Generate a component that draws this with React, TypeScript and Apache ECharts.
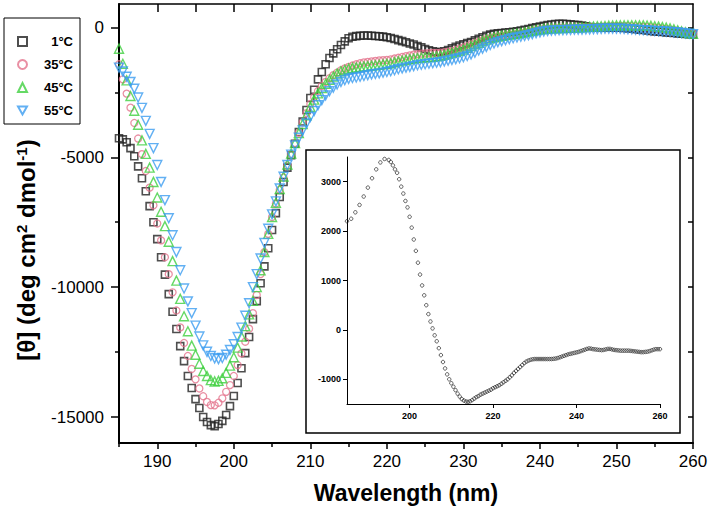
import React, { useEffect, useRef } from "react";
import * as echarts from "echarts";

// ---- data (wavelength grid: 185 nm to 260 nm, every 0.5 nm) ----
const WL_START = 185;
const WL_STEP = 0.5;

const SERIES_NAMES = ["1°C", "35°C", "45°C", "55°C"];

const CD_1C = [
  -4270, -4310, -4420, -4650, -4960, -5350, -5810, -6310, -6880, -7500,
  -8150, -8850, -9520, -10270, -10950, -11610, -12270, -12850, -13420, -13880,
  -14310, -14650, -15000, -15190, -15310, -15350, -15270, -15150, -14920, -14580,
  -14190, -13690, -13120, -12540, -11920, -11230, -10540, -9850, -9200, -8500,
  -7800, -7150, -6530, -5950, -5400, -4920, -4480, -4030, -3630, -3180,
  -2720, -2400, -2000, -1720, -1420, -1180, -1000, -840, -680, -540,
  -420, -360, -335, -320, -315, -315, -320, -330, -340, -355,
  -380, -410, -450, -490, -530, -575, -620, -660, -720, -770,
  -830, -880, -920, -950, -950, -920, -870, -810, -750, -700,
  -650, -600, -560, -500, -440, -380, -320, -280, -250, -230,
  -215, -200, -185, -170, -150, -120, -90, -60, -30, 0,
  30, 60, 90, 110, 130, 140, 140, 130, 115, 100,
  85, 70, 40, 15, 0, -10, -10, -10, -10, -10,
  -10, -15, -25, -40, -55, -70, -85, -100, -120, -140,
  -155, -170, -180, -195, -205, -215, -230, -245, -255, -265,
  -275,
];

const CD_35C = [
  -1420, -2000, -2550, -3090, -3680, -4280, -4880, -5530, -6170, -6850,
  -7550, -8200, -8850, -9500, -10200, -10900, -11550, -12150, -12650, -13150,
  -13550, -13900, -14200, -14420, -14540, -14550, -14450, -14280, -14030, -13770,
  -13420, -13000, -12550, -12100, -11600, -11000, -10300, -9500, -8650, -7950,
  -7300, -6780, -6250, -5780, -5320, -4880, -4450, -4050, -3650, -3300,
  -2950, -2680, -2450, -2250, -2100, -1960, -1840, -1740, -1650, -1580,
  -1520, -1470, -1420, -1380, -1350, -1330, -1310, -1290, -1270, -1260,
  -1250, -1230, -1200, -1170, -1140, -1110, -1080, -1050, -1030, -1010,
  -1000, -990, -985, -980, -975, -960, -940, -910, -870, -820,
  -770, -720, -660, -600, -550, -500, -450, -410, -380, -350,
  -330, -310, -290, -270, -250, -230, -200, -170, -140, -110,
  -80, -60, -45, -35, -30, -25, -20, -15, -10, -5,
  0, 5, 10, 15, 20, 25, 30, 35, 40, 45,
  50, 50, 50, 45, 40, 35, 30, 20, 10, 0,
  -15, -30, -50, -70, -90, -110, -130, -160, -190, -220,
  -250,
];

const CD_45C = [
  -820, -1400, -2040, -2640, -3210, -3750, -4350, -4870, -5400, -5950,
  -6550, -7100, -7650, -8250, -9000, -9750, -10450, -11120, -11700, -12250,
  -12600, -12950, -13230, -13420, -13580, -13630, -13610, -13510, -13300, -13020,
  -12700, -12330, -11900, -11500, -11050, -10530, -10000, -9350, -8650, -7950,
  -7300, -6750, -6220, -5740, -5280, -4860, -4450, -4070, -3720, -3380,
  -3060, -2780, -2540, -2340, -2170, -2020, -1890, -1780, -1690, -1630,
  -1590, -1560, -1540, -1520, -1500, -1490, -1470, -1460, -1440, -1420,
  -1400, -1380, -1340, -1310, -1280, -1250, -1220, -1200, -1180, -1160,
  -1150, -1140, -1130, -1110, -1090, -1060, -1020, -980, -940, -900,
  -850, -790, -720, -650, -590, -530, -470, -420, -380, -350,
  -320, -300, -280, -260, -240, -220, -190, -160, -130, -100,
  -80, -60, -50, -40, -35, -30, -25, -20, -15, -10,
  -5, 0, 10, 20, 30, 40, 45, 55, 65, 70,
  75, 80, 80, 80, 80, 80, 75, 75, 70, 60,
  45, 30, 10, -10, -40, -70, -110, -150, -190, -220,
  -250,
];

const CD_55C = [
  -1550, -1700, -1900, -2100, -2360, -2700, -3100, -3600, -4100, -4650,
  -5300, -5950, -6650, -7350, -8000, -8650, -9350, -10050, -10550, -11000,
  -11480, -11900, -12240, -12490, -12650, -12740, -12770, -12730, -12600, -12420,
  -12200, -11920, -11560, -11100, -10620, -10000, -9500, -8900, -8300, -7750,
  -7200, -6700, -6200, -5750, -5300, -4900, -4550, -4250, -3970, -3700,
  -3450, -3220, -3000, -2800, -2620, -2460, -2320, -2200, -2100, -2030,
  -1980, -1950, -1930, -1900, -1870, -1840, -1810, -1790, -1770, -1740,
  -1720, -1690, -1650, -1610, -1580, -1550, -1520, -1490, -1460, -1440,
  -1420, -1400, -1380, -1360, -1340, -1310, -1280, -1250, -1220, -1190,
  -1150, -1100, -1040, -970, -890, -820, -750, -680, -620, -570,
  -530, -490, -450, -420, -390, -360, -330, -300, -260, -220,
  -190, -160, -140, -125, -115, -110, -105, -100, -95, -90,
  -90, -85, -80, -75, -70, -65, -60, -55, -50, -50,
  -50, -55, -60, -70, -80, -90, -100, -110, -120, -130,
  -140, -150, -160, -170, -180, -190, -200, -215, -230, -245,
  -260,
];

// inset: 185–195 nm every 1 nm, then 195.5–260 nm every 0.5 nm
const INSET_COARSE_START = 185;
const INSET_COARSE_STEP = 1;
const INSET_COARSE = [2200, 2250, 2380, 2530, 2700, 2880, 3070, 3250, 3390, 3460, 3440];
const INSET_FINE_START = 195.5;
const INSET_FINE_STEP = 0.5;
const INSET_FINE = [
  3400, 3330, 3250, 3180, 3050, 2900, 2760, 2610, 2480,
  2290, 2070, 1830, 1600, 1360, 1120, 900, 700, 500, 320,
  170, 30, -110, -230, -370, -510, -650, -780, -900, -1000,
  -1080, -1150, -1220, -1290, -1350, -1400, -1430, -1450, -1455, -1445,
  -1420, -1390, -1360, -1340, -1310, -1290, -1270, -1250, -1230, -1210,
  -1180, -1160, -1140, -1120, -1090, -1060, -1030, -1000, -960, -920,
  -870, -830, -790, -750, -710, -670, -640, -620, -605, -595,
  -590, -590, -590, -590, -590, -590, -590, -590, -590, -585,
  -580, -570, -555, -540, -525, -510, -495, -485, -475, -465,
  -455, -445, -430, -415, -400, -385, -375, -380, -390, -395,
  -400, -405, -410, -405, -395, -385, -385, -395, -405, -410,
  -415, -420, -420, -420, -420, -420, -425, -430, -435, -440,
  -445, -450, -450, -445, -440, -430, -415, -400, -390, -390,
  -390,
];

// ticks / labels
const MAIN_X_LABELS = [190, 200, 210, 220, 230, 240, 250, 260];
const MAIN_X_MINOR = [185, 195, 205, 215, 225, 235, 245, 255];
const MAIN_X_TOP_TICKS = [190, 195, 200, 205, 210, 215, 220, 225, 230, 235, 240, 245, 250, 255];
const MAIN_Y_LABELS = [-15000, -10000, -5000, 0];
const MAIN_Y_MINOR = [-12500, -7500, -2500];
const MAIN_Y_RIGHT_TICKS = [-15000, -12500, -10000, -7500, -5000, -2500, 0];
const INSET_X_LABELS = [200, 220, 240, 260];
const INSET_Y_LABELS = [-1000, 0, 1000, 2000, 3000];

const FONT = 'Arial, "Liberation Sans", Helvetica, sans-serif';

function pair(values: number[], start: number, step: number) {
  return values.map((v, i) => [start + i * step, v]);
}
const plain = (v: number) => String(v);

const COLORS = ["#222222", "#e4738c", "#3fcf3f", "#3b9cf0"];
const SYMBOLS = ["rect", "circle", "triangle", "path://M0,0L10,0L5,9Z"];
const SIZES = [7, 7, 9, 9];
const BORDERS = [1.6, 1.3, 1.4, 1.4];

export default function App() {
  const ref = useRef<HTMLDivElement>(null);
  useEffect(() => {
    if (!ref.current) return;
    const chart = echarts.init(ref.current, null, { renderer: "svg" });
    const mainData = [CD_1C, CD_35C, CD_45C, CD_55C];
    const insetData = [
      ...pair(INSET_COARSE, INSET_COARSE_START, INSET_COARSE_STEP),
      ...pair(INSET_FINE, INSET_FINE_START, INSET_FINE_STEP),
    ];
    const black = { color: "#000" };
    const option: any = {
      animation: false,
      backgroundColor: "#fff",
      grid: [
        { left: 119, right: 17, top: 4, bottom: 73, outerBoundsMode: "none" },
        { left: 347, right: 50, top: 157, bottom: 112, outerBoundsMode: "none" },
      ],
      legend: {
        orient: "vertical",
        left: 4,
        top: 18,
        borderColor: "#000",
        borderWidth: 1,
        padding: [17, 7, 7, 13],
        itemWidth: 9,
        itemHeight: 9,
        itemGap: 10,
        selectedMode: false,
        data: SERIES_NAMES,
        formatter: (n: string) => `{t|${n}}`,
        textStyle: {
          rich: {
            t: { width: 41, align: "right", fontWeight: "bold", fontSize: 13, fontFamily: FONT, color: "#000" },
          },
        },
      },
      xAxis: [
        {
          type: "value", gridIndex: 0, min: 185, max: 260, position: "bottom",
          axisLine: { onZero: false, lineStyle: { ...black, width: 2 } },
          axisTick: { customValues: MAIN_X_LABELS, length: 6, lineStyle: { ...black, width: 1.5 } },
          axisLabel: { customValues: MAIN_X_LABELS, formatter: plain, fontSize: 17, color: "#000", margin: 10, fontFamily: FONT },
          splitLine: { show: false },
          name: "Wavelength (nm)", nameLocation: "middle", nameGap: 38,
          nameTextStyle: { fontSize: 23, fontWeight: "bold", color: "#000", fontFamily: FONT },
        },
        {
          type: "value", gridIndex: 0, min: 185, max: 260, position: "bottom",
          axisLine: { show: false, onZero: false },
          axisTick: { customValues: MAIN_X_MINOR, length: 4, lineStyle: { ...black, width: 1.5 } },
          axisLabel: { show: false },
          splitLine: { show: false },
        },
        {
          type: "value", gridIndex: 0, min: 185, max: 260, position: "top",
          axisLine: { onZero: false, lineStyle: { ...black, width: 1.5 } },
          axisTick: { customValues: MAIN_X_TOP_TICKS, length: 8, inside: true, lineStyle: { ...black, width: 1.5 } },
          axisLabel: { show: false },
          splitLine: { show: false },
        },
        {
          type: "value", gridIndex: 1, min: 185, max: 260, position: "bottom",
          axisLine: { onZero: false, lineStyle: { ...black, width: 1 } },
          axisTick: { customValues: INSET_X_LABELS, length: 4, lineStyle: { ...black, width: 1 } },
          axisLabel: { customValues: INSET_X_LABELS, formatter: plain, fontSize: 9, fontWeight: "bold", color: "#000", margin: 7, fontFamily: FONT },
          splitLine: { show: false },
        },
      ],
      yAxis: [
        {
          type: "value", gridIndex: 0, min: -16000, max: 900, position: "left",
          axisLine: { onZero: false, lineStyle: { ...black, width: 2 } },
          axisTick: { customValues: MAIN_Y_LABELS, length: 8, lineStyle: { ...black, width: 1.5 } },
          axisLabel: { customValues: MAIN_Y_LABELS, formatter: plain, fontSize: 17, color: "#000", margin: 15, fontFamily: FONT },
          splitLine: { show: false },
        },
        {
          type: "value", gridIndex: 0, min: -16000, max: 900, position: "left",
          axisLine: { show: false, onZero: false },
          axisTick: { customValues: MAIN_Y_MINOR, length: 4, lineStyle: { ...black, width: 1.5 } },
          axisLabel: { show: false },
          splitLine: { show: false },
        },
        {
          type: "value", gridIndex: 0, min: -16000, max: 900, position: "right",
          axisLine: { onZero: false, lineStyle: { ...black, width: 1.5 } },
          axisTick: { customValues: MAIN_Y_RIGHT_TICKS, length: 5, inside: true, lineStyle: { ...black, width: 1.5 } },
          axisLabel: { show: false },
          splitLine: { show: false },
        },
        {
          type: "value", gridIndex: 1, min: -1500, max: 3500, position: "left",
          axisLine: { onZero: false, lineStyle: { ...black, width: 1 } },
          axisTick: { customValues: INSET_Y_LABELS, length: 4, lineStyle: { ...black, width: 1 } },
          axisLabel: { customValues: INSET_Y_LABELS, formatter: plain, fontSize: 9, fontWeight: "bold", color: "#000", margin: 6, fontFamily: FONT },
          splitLine: { show: false },
        },
      ],
      graphic: [
        {
          type: "rect",
          shape: { x: 306, y: 150, width: 374, height: 283 },
          style: { fill: "none", stroke: "#000", lineWidth: 1.5 },
          z: 1,
        },
        {
          type: "text",
          x: 26,
          y: 250,
          rotation: Math.PI / 2,
          style: {
            text: "[θ] (deg cm{s|2} dmol{s|-1})",
            fontSize: 24,
            fontWeight: "bold",
            fontFamily: FONT,
            fill: "#000",
            align: "center",
            verticalAlign: "middle",
            rich: {
              s: { fontSize: 15, fontWeight: "bold", fontFamily: FONT, verticalAlign: "top", fill: "#000" },
            },
          },
        },
      ],
      series: [
        ...mainData.map((vals, k) => ({
          type: "scatter",
          name: SERIES_NAMES[k],
          xAxisIndex: 0,
          yAxisIndex: 0,
          data: pair(vals, WL_START, WL_STEP),
          symbol: SYMBOLS[k],
          symbolSize: SIZES[k],
          itemStyle: { color: "rgba(255,255,255,0)", borderColor: COLORS[k], borderWidth: BORDERS[k] },
          emphasis: { disabled: true },
          z: 2 + k,
        })),
        {
          type: "scatter",
          name: "inset",
          xAxisIndex: 3,
          yAxisIndex: 3,
          data: insetData,
          symbol: "circle",
          symbolSize: 3.5,
          itemStyle: { color: "rgba(255,255,255,0)", borderColor: "#222", borderWidth: 0.9 },
          emphasis: { disabled: true },
        },
      ],
    };
    chart.setOption(option);
    return () => chart.dispose();
  }, []);
  return (
    <div
      ref={ref}
      style={{ position: "absolute", left: 0, top: 0, width: 710, height: 516, background: "#fff" }}
    />
  );
}
